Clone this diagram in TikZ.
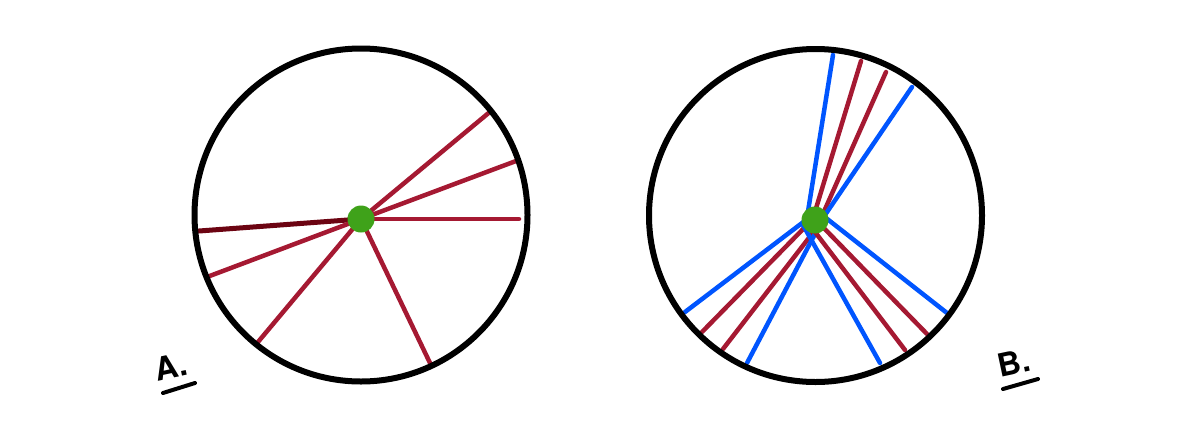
\documentclass[tikz,border=0pt]{standalone}
\usepackage{fontspec}
\setsansfont{TeX Gyre Heros}
\usetikzlibrary{positioning}
\tikzset{gdot/.style = {fill = mgreen, circle, inner sep = 0, minimum size = 27}}
\tikzset{ray/.style = {line width = 4.5, line cap = round}}
\tikzset{rim/.style = {line width = 6, black}}
\tikzset{tag/.style = {font = \sffamily\bfseries\fontsize{32}{32}\selectfont, rotate = 12, inner sep = 0}}
\definecolor{mred}{RGB}{165, 25, 50}
\definecolor{mdark}{RGB}{108, 4, 18}
\definecolor{mblue}{RGB}{0, 85, 255}
\definecolor{mgreen}{RGB}{63, 162, 26}

\begin{document}
\begin{tikzpicture}[x = 1pt, y = -1pt]
      \useasboundingbox (0, 0) rectangle (1196, 429);

      % circle A
      \coordinate (cA) at (361, 219);
      \coordinate (a1) at (199, 231);
      \coordinate (a2) at (207, 277);
      \coordinate (a3) at (258, 342);
      \coordinate (a4) at (430, 363);
      \coordinate (a5) at (519, 219);
      \coordinate (a6) at (516, 161);
      \coordinate (a7) at (491, 111);

      \draw [ray, mdark, line width = 5] (cA) -- (a1);
      \foreach \e in {a2, a3, a4, a5, a6, a7}
        \draw [ray, mred] (cA) -- (\e);

      \draw [rim] (361, 215) circle (166.5);
      \node [gdot] (dotA) at (cA) {};

      % circle B
      \coordinate (cB) at (815, 220);

      \draw [ray, mblue] (833, 55) coordinate (t1) -- (806, 224);
      \draw [ray, mred] (861, 61) coordinate (t2) -- (810, 228);
      \draw [ray, mred] (886, 72) coordinate (t3) -- (818, 225);
      \draw [ray, mblue] (912, 87) coordinate (t4) -- (825, 215);

      \draw [ray, mblue] (685, 312) coordinate (l1) -- (806, 220);
      \draw [ray, mred] (702, 332) coordinate (l2) -- (810, 222);
      \draw [ray, mred] (723, 349) coordinate (l3) -- (815, 230);
      \draw [ray, mblue] (747, 363) coordinate (l4) -- (816, 232);

      \draw [ray, mblue] (880, 363) coordinate (r1) -- (803, 225);
      \draw [ray, mred] (905, 350) coordinate (r2) -- (812, 228);
      \draw [ray, mred] (927, 334) coordinate (r3) -- (818, 222);
      \draw [ray, mblue] (947, 313) coordinate (r4) -- (826, 218);

      \draw [rim] (815.5, 215.5) circle (166.5);
      \node [gdot] (dotB) at (cB) {};

      % labels
      \node [tag] (labA) at (171, 367) {A.};
      \draw [line width = 4, line cap = round] (163, 393) -- (195, 383);

      \node [tag] (labB) at (1014, 363) {B.};
      \draw [line width = 4, line cap = round] (1003, 389) -- (1038, 379);
    \end{tikzpicture}
\end{document}
